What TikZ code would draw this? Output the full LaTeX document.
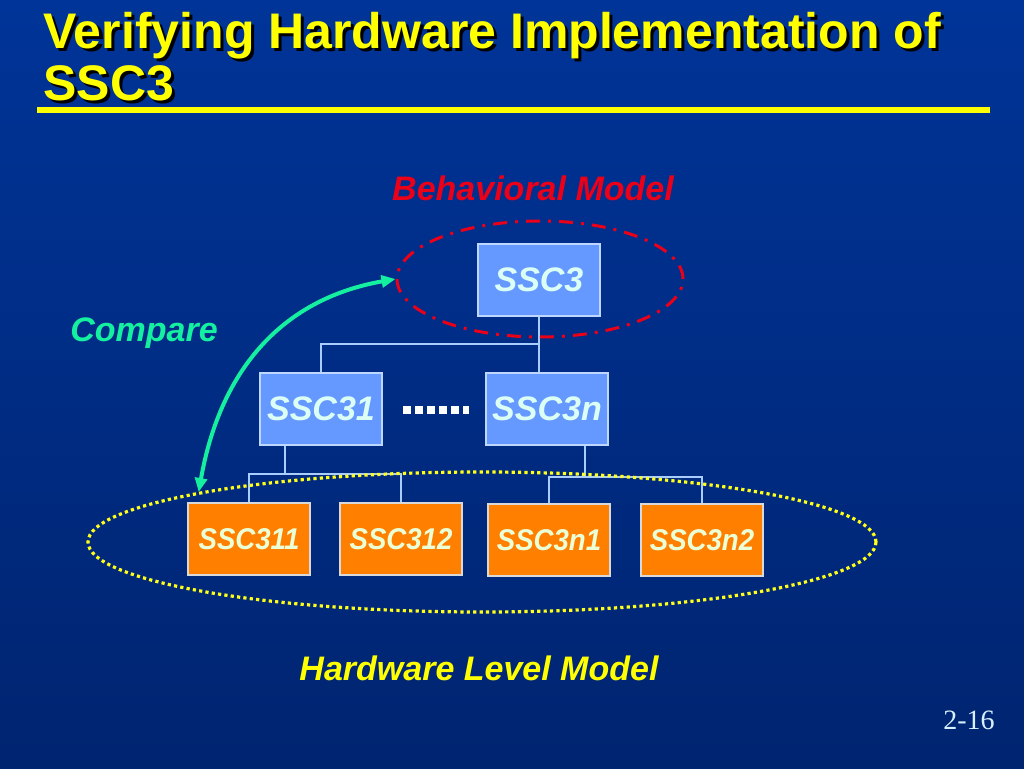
\documentclass[tikz,border=0pt]{standalone}
\usepackage{fontspec}
\setmainfont{Liberation Sans}
\newfontfamily\pagefont{Liberation Serif}
\usetikzlibrary{arrows.meta, positioning, shapes.geometric}

\definecolor{slideblue}{RGB}{0,52,152}
\definecolor{slidedark}{RGB}{0,36,112}
\definecolor{boxblue}{RGB}{102,153,255}
\definecolor{boxedge}{RGB}{190,215,255}
\definecolor{boxtext}{RGB}{220,255,245}
\definecolor{hworange}{RGB}{255,128,0}
\definecolor{hwtext}{RGB}{235,255,215}
\definecolor{cmpgreen}{RGB}{20,240,160}
\definecolor{titleyellow}{RGB}{255,255,0}
\definecolor{behavred}{RGB}{235,0,25}
\definecolor{linkblue}{RGB}{170,205,255}
\definecolor{pagetext}{RGB}{215,240,255}

\begin{document}
\begin{tikzpicture}[x=0.5pt, y=0.5pt,
		blockbox/.style={draw=boxedge, line width=0.8pt, fill=boxblue, minimum width=61pt, minimum height=36pt, inner sep=0pt, text=boxtext, font=\fontsize{17}{20}\selectfont\bfseries\itshape},
		hwbox/.style={draw=white!85!black, line width=0.8pt, fill=hworange, minimum width=61pt, minimum height=36pt, inner sep=0pt, text=hwtext, font=\fontsize{15}{18}\selectfont\bfseries\itshape\addfontfeatures{FakeStretch=0.92}},
		link/.style={linkblue, line width=0.7pt},
		captiontext/.style={inner sep=0pt, font=\fontsize{17}{20}\selectfont\bfseries\itshape},
		titletext/.style={anchor=base west, inner sep=0pt, font=\fontsize{25}{30}\selectfont\bfseries},
		cmp/.style={cmpgreen, line width=2pt, {Triangle[length=7pt,width=6pt]}-{Triangle[length=7pt,width=6pt]}}]
			% Draw the background
			\useasboundingbox (0,0) rectangle (1024,768);
			\fill[top color=slideblue, bottom color=slidedark] (0,0) rectangle (1024,768);

			% Title with its shadow
			\node[titletext, text=black] at (46,716) {Verifying Hardware Implementation of};
			\node[titletext, text=titleyellow] (title1) at (43,719) {Verifying Hardware Implementation of};
			\node[titletext, text=black] at (46,665) {SSC3};
			\node[titletext, text=titleyellow] (title2) at (43,668) {SSC3};
			\draw[titleyellow, line width=3pt] (37,658) -- (990,658);

			% Behavioral level
			\node[captiontext, text=behavred] (behavlabel) at (533,580) {Behavioral Model};
			\node[blockbox] (ssc3) at (539,488) {SSC3};

			\node[blockbox] (ssc31) at (321,359) {SSC31};
			\node[blockbox] (ssc3n) at (547,359) {SSC3n};

			\coordinate (dotsL) at (403,358);
			\coordinate (dotsR) at (469,358);
			\draw[white, line width=4pt, dash pattern=on 4pt off 2pt] (dotsL) -- (dotsR);

			% Hardware level
			\node[hwbox] (ssc311) at (249,229) {SSC311};
			\node[hwbox] (ssc312) at (401,229) {SSC312};
			\node[hwbox] (ssc3n1) at (549,228) {SSC3n1};
			\node[hwbox] (ssc3n2) at (702,228) {SSC3n2};

			% Draw the tree lines
			\coordinate (bus1) at (539,424);
			\coordinate (busA) at (285,294);
			\coordinate (busB) at (585,291);
			\draw[link] (ssc3.south) -- (ssc3n.north -| ssc3.south);
			\draw[link] (ssc31.north) |- (bus1);
			\draw[link] (ssc31.south -| busA) -- (busA);
			\draw[link] (ssc311.north) |- (busA) -| (ssc312.north);
			\draw[link] (ssc3n.south -| busB) -- (busB);
			\draw[link] (ssc3n1.north) |- (busB) -| (ssc3n2.north);

			% Draw the two groups
			\node[draw=behavred, ellipse, line width=1.5pt, dash pattern=on 7pt off 4pt on 1.5pt off 4pt, minimum width=143pt, minimum height=58pt, inner sep=0pt] (behav) at (540,489) {};
			\node[draw=titleyellow!90!white, ellipse, line width=1.6pt, dash pattern=on 1.6pt off 1.6pt, minimum width=394pt, minimum height=70pt, inner sep=0pt] (hw) at (482,226) {};

			\node[captiontext, text=titleyellow] (hwlabel) at (479,100) {Hardware Level Model};
			\node[captiontext, text=cmpgreen] (cmplabel) at (144,435) {Compare};

			\draw[cmp] (hw.170) to[out=80, in=190, looseness=1.05] (behav.west);

			\node[text=pagetext, font=\pagefont\fontsize{14}{17}\selectfont] (page) at (969,48) {2-16};

		\end{tikzpicture}
\end{document}
